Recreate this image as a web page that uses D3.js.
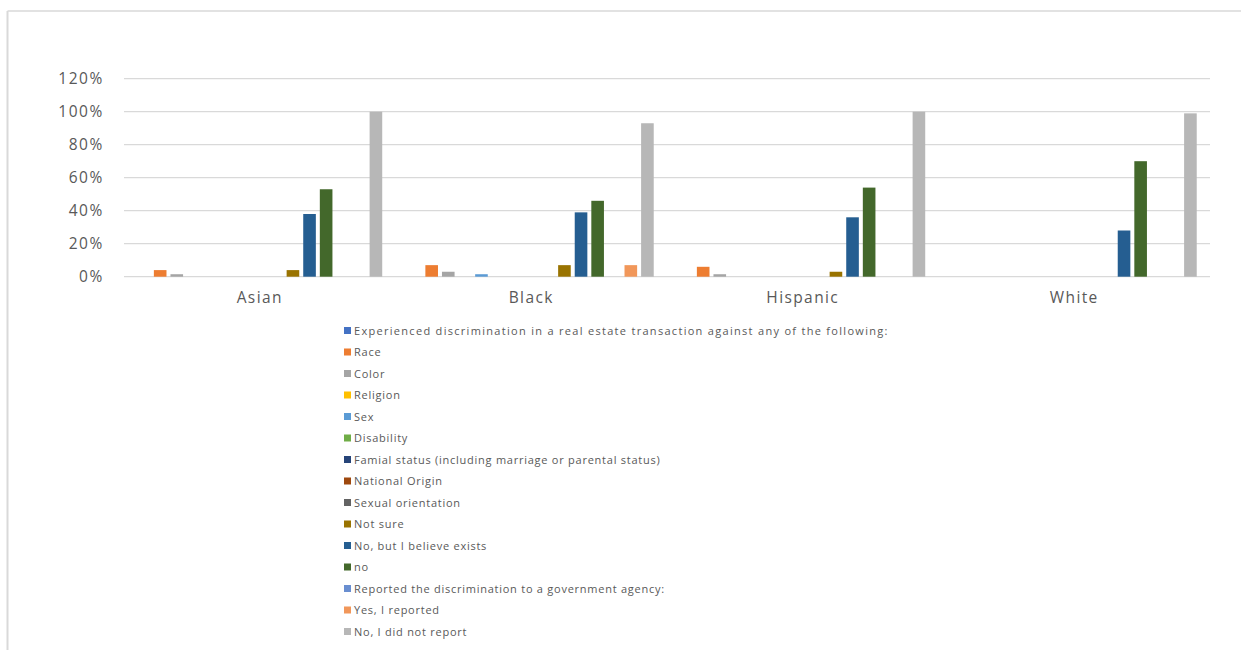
<!DOCTYPE html>
<html>
<head>
<meta charset="utf-8">
<script src="https://cdn.jsdelivr.net/npm/d3@7"></script>
<style>
  html, body { margin: 0; padding: 0; background: #fff; }
  svg { display: block; font-family: "Open Sans", "Liberation Sans", sans-serif; }
</style>
</head>
<body>
<svg id="chart" width="1241" height="650"></svg>
<script>
// Respondent groups along the x axis
const groups = ["Asian", "Black", "Hispanic", "White"];

// Survey answers (one bar series each), in legend order
const seriesNames = [
  "Experienced discrimination in a real estate transaction against any of the following:",
  "Race",
  "Color",
  "Religion",
  "Sex",
  "Disability",
  "Famial status (including marriage or parental status)",
  "National Origin",
  "Sexual orientation",
  "Not sure",
  "No, but I believe exists",
  "no",
  "Reported the discrimination to a government agency:",
  "Yes, I reported",
  "No, I did not report"
];

const seriesColors = [
  "#4472C4", "#ED7D31", "#A5A5A5", "#FFC000", "#5B9BD5",
  "#70AD47", "#264478", "#9E480E", "#636363", "#997300",
  "#255E91", "#43682B", "#698ED0", "#F1975A", "#B7B7B7"
];

// Share of respondents (%) per series, one value per group: Asian, Black, Hispanic, White
const experienced   = [0, 0, 0, 0];
const race          = [4, 7, 6, 0];
const color         = [1.5, 3, 1.5, 0];
const religion      = [0, 0, 0, 0];
const sex           = [0, 1.5, 0, 0];
const disability    = [0, 0, 0, 0];
const famialStatus  = [0, 0, 0, 0];
const nationalOrig  = [0, 0, 0, 0];
const sexualOrient  = [0, 0, 0, 0];
const notSure       = [4, 7, 3, 0];
const noButBelieve  = [38, 39, 36, 28];
const no            = [53, 46, 54, 70];
const reportedHdr   = [0, 0, 0, 0];
const yesReported   = [0, 7, 0, 0];
const noDidNotReport = [100, 93, 100, 99];

const seriesValues = [
  experienced, race, color, religion, sex, disability, famialStatus,
  nationalOrig, sexualOrient, notSure, noButBelieve, no, reportedHdr,
  yesReported, noDidNotReport
];

const yTicks = [0, 20, 40, 60, 80, 100, 120];

const svg = d3.select("#chart");

// Chart frame
svg.append("line").attr("x1", 7.5).attr("x2", 1241).attr("y1", 11).attr("y2", 11)
  .attr("stroke", "#d9d9d9").attr("stroke-width", 1.5);
svg.append("line").attr("x1", 7.5).attr("x2", 7.5).attr("y1", 11).attr("y2", 650)
  .attr("stroke", "#d9d9d9").attr("stroke-width", 2);

const plot = { left: 124, right: 1210, top: 78.7, bottom: 276.7 };

const x0 = d3.scaleBand().domain(groups).range([plot.left, plot.right]).padding(0);
const x1 = d3.scaleBand().domain(d3.range(seriesNames.length))
  .range([0, x0.bandwidth()]).paddingOuter(0.8).paddingInner(0.24);
const y = d3.scaleLinear().domain([0, 120]).range([plot.bottom, plot.top]);

// Gridlines
svg.append("g").selectAll("line").data(yTicks).join("line")
  .attr("x1", plot.left).attr("x2", plot.right)
  .attr("y1", d => y(d)).attr("y2", d => y(d))
  .attr("stroke", "#d9d9d9").attr("stroke-width", 1.3);

// Y axis labels
const yAxis = svg.append("g").attr("transform", `translate(${plot.left - 20},0)`)
  .call(d3.axisLeft(y).tickValues(yTicks).tickFormat(d => d + "%").tickSize(0).tickPadding(0));
yAxis.select(".domain").remove();
yAxis.selectAll("text")
  .attr("fill", "#595959").attr("font-size", 15.5).attr("letter-spacing", 1.6)
  .attr("font-family", "Open Sans, sans-serif");

// Bars
const barData = [];
seriesValues.forEach((vals, si) => {
  vals.forEach((v, gi) => barData.push({ s: si, g: groups[gi], v }));
});
svg.append("g").selectAll("rect").data(barData.filter(d => d.v > 0)).join("rect")
  .attr("x", d => x0(d.g) + x1(d.s))
  .attr("width", x1.bandwidth())
  .attr("y", d => y(d.v))
  .attr("height", d => y(0) - y(d.v))
  .attr("fill", d => seriesColors[d.s]);

// Category axis
const xAxis = svg.append("g").attr("transform", `translate(0,${plot.bottom})`)
  .call(d3.axisBottom(x0).tickSize(0).tickPadding(15));
xAxis.select(".domain").remove();
xAxis.selectAll("text")
  .attr("fill", "#595959").attr("font-size", 15.5).attr("letter-spacing", 1.4)
  .attr("font-family", "Open Sans, sans-serif");

// Legend
const legend = svg.append("g").attr("transform", "translate(344,0)");
const items = legend.selectAll("g").data(seriesNames).join("g")
  .attr("transform", (d, i) => `translate(0,${331 + i * 21.5})`);
items.append("rect").attr("x", 0).attr("y", -4).attr("width", 7).attr("height", 7)
  .attr("fill", (d, i) => seriesColors[i]);
items.append("text").attr("x", 10).attr("y", 0).attr("dy", "0.35em")
  .attr("fill", "#595959").attr("font-size", 11)
  .attr("letter-spacing", (d, i) => i === 0 ? 1.3 : 0.75)
  .text(d => d);
</script>
</body>
</html>
